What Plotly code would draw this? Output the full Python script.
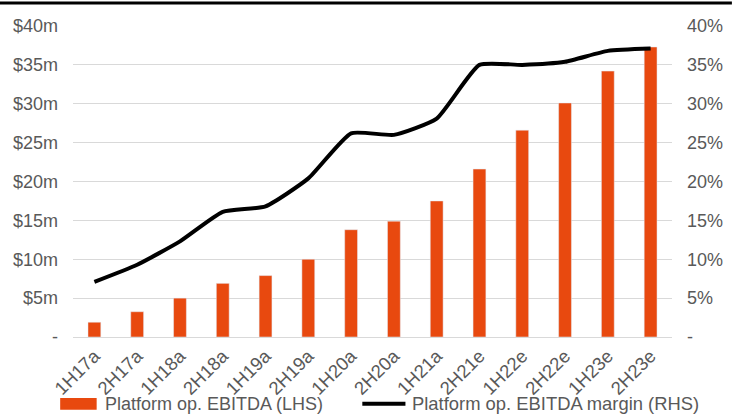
import plotly.graph_objects as go

categories = ["1H17a", "2H17a", "1H18a", "2H18a", "1H19a", "2H19a", "1H20a",
              "2H20a", "1H21a", "2H21e", "1H22e", "2H22e", "1H23e", "2H23e"]
ebitda_m = [1.9, 3.25, 5.0, 6.9, 7.9, 10.0, 13.8, 14.9, 17.5, 21.6, 26.6, 30.1, 34.2, 37.3]
margin_pct = [7.1, 9.3, 12.3, 16.1, 16.8, 20.4, 26.2, 26.0, 28.1, 35.0, 35.0, 35.4, 36.8, 37.1]

left_tickvals = [0, 5, 10, 15, 20, 25, 30, 35, 40]
left_ticktext = ["-", "$5m", "$10m", "$15m", "$20m", "$25m", "$30m", "$35m", "$40m"]
right_tickvals = [0, 5, 10, 15, 20, 25, 30, 35, 40]
right_ticktext = ["-", "5%", "10%", "15%", "20%", "25%", "30%", "35%", "40%"]

BAR = "#E8490F"
TXT = "#595959"
FONT = "Liberation Sans, Arial, sans-serif"

fig = go.Figure()
fig.add_trace(go.Bar(x=categories, y=ebitda_m, marker_color=BAR, width=0.3,
                     name="Platform op. EBITDA (LHS)", yaxis="y"))
fig.add_trace(go.Scatter(x=categories, y=margin_pct, mode="lines",
                         line=dict(color="black", width=4, shape="spline", smoothing=0.5),
                         name="Platform op. EBITDA margin (RHS)", yaxis="y2"))

fig.update_layout(
    width=735, height=420,
    margin=dict(l=73, r=55, t=26, b=83),
    paper_bgcolor="white", plot_bgcolor="white",
    showlegend=False,
    font=dict(family=FONT, size=18, color=TXT),
    xaxis=dict(tickangle=-45, tickfont=dict(size=18.5, color=TXT), showgrid=False,
               showline=True, linecolor="#d9d9d9", linewidth=1, ticks=""),
    yaxis=dict(range=[0, 40], tickvals=left_tickvals, ticktext=left_ticktext,
               showgrid=True, gridcolor="#d9d9d9", gridwidth=1, zeroline=False,
               tickfont=dict(size=18, color=TXT), ticklabelstandoff=14),
    yaxis2=dict(range=[0, 40], tickvals=right_tickvals, ticktext=right_ticktext,
                overlaying="y", side="right", showgrid=False, zeroline=False,
                tickfont=dict(size=18, color=TXT), ticklabelstandoff=14),
)

# top border line
fig.add_shape(type="line", xref="paper", yref="paper", x0=-0.13, x1=1.1,
              y0=1.074, y1=1.074, line=dict(color="black", width=3))

# custom legend
ly = -0.215
fig.add_shape(type="rect", xref="paper", yref="paper", x0=-0.0214, x1=0.0395,
              y0=ly - 0.019, y1=ly + 0.019, fillcolor=BAR, line=dict(width=0))
fig.add_annotation(xref="paper", yref="paper", x=0.0494, y=ly, xanchor="left", yanchor="middle",
                   text="Platform op. EBITDA (LHS)", showarrow=False,
                   font=dict(size=18, color=TXT, family=FONT))
fig.add_shape(type="line", xref="paper", yref="paper", x0=0.483, x1=0.555,
              y0=ly, y1=ly, line=dict(color="black", width=4))
fig.add_annotation(xref="paper", yref="paper", x=0.563, y=ly, xanchor="left", yanchor="middle",
                   text="Platform op. EBITDA margin (RHS)", showarrow=False,
                   font=dict(size=18.4, color=TXT, family=FONT))

fig.write_html("out.html")
